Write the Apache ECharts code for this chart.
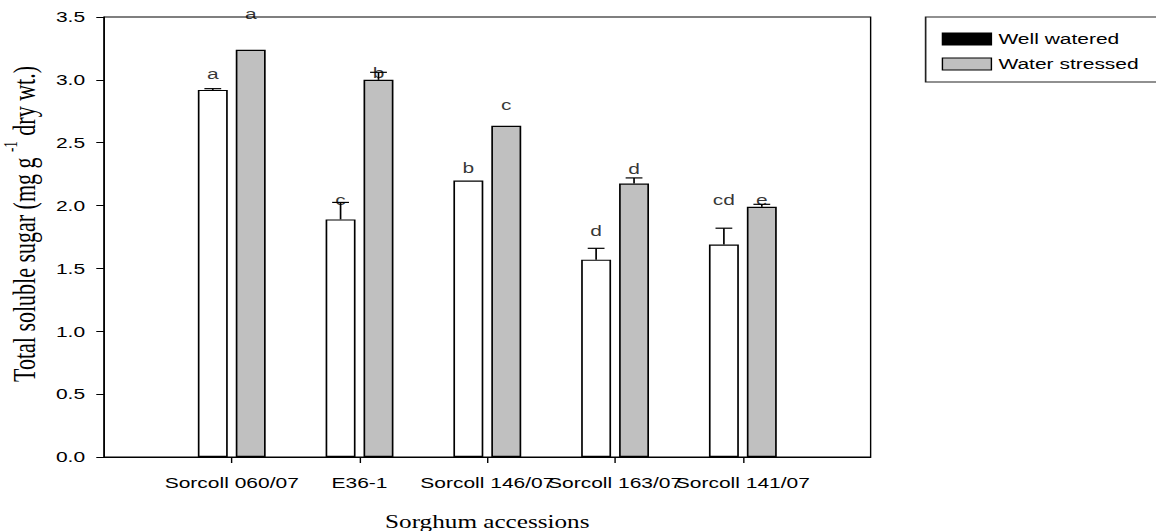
<!DOCTYPE html>
<html><head><meta charset="utf-8">
<script src="https://cdn.jsdelivr.net/npm/echarts@6/dist/echarts.min.js"></script>
<style>
html,body{margin:0;padding:0;background:#fff;overflow:hidden}
#wrap{width:1156px;height:531px;overflow:hidden;position:relative}
#chart{width:826px;height:531px;transform:scaleX(1.3995);transform-origin:0 0}
</style>
</head><body><div id="wrap"><div id="chart"></div></div>
<script>
const categories = ['Sorcoll 060/07', 'E36-1', 'Sorcoll 146/07', 'Sorcoll 163/07', 'Sorcoll 141/07'];
const wellWatered = [2.92, 1.89, 2.20, 1.57, 1.69];
const wellWateredErr = [0.01, 0.135, 0, 0.09, 0.13];
const waterStressed = [3.24, 3.00, 2.635, 2.175, 1.99];
const waterStressedErr = [0, 0.06, 0, 0.045, 0.02];
const wellLetters = ['a', 'c', 'b', 'd', 'cd'];
const stressLetters = ['a', 'b', 'c', 'd', 'e'];
const wellLetterY = [3.05, 2.045, 2.30, 1.80, 2.045];
const stressLetterY = [3.53, 3.055, 2.80, 2.29, 2.05];

const SANS = 'Liberation Sans, Arial, sans-serif';
const SERIF = 'Liberation Serif, Times New Roman, serif';
const BAR_W = 21.4;
const GAP = 5.7;
const OFFSET = (BAR_W + GAP) / 2;
const CAP = 12;

const axisCats = [''].concat(categories, ['']);
const pad = arr => ['-'].concat(arr, ['-']);

function errRender(side) {
  return function (params, api) {
    const err = api.value(2);
    if (!err) return null;
    const top = api.value(1);
    const p0 = api.coord([api.value(0), top]);
    const p1 = api.coord([api.value(0), top + err]);
    const x = p0[0] + side * OFFSET;
    const st = { stroke: '#000', lineWidth: 1.2 };
    return {
      type: 'group', children: [
        { type: 'line', shape: { x1: x, y1: p0[1], x2: x, y2: p1[1] }, style: st },
        { type: 'line', shape: { x1: x - CAP / 2, y1: p1[1], x2: x + CAP / 2, y2: p1[1] }, style: st }
      ]
    };
  };
}

function letterSeries(name, ys, letters, side) {
  return {
    name: name, type: 'scatter', clip: false, silent: true,
    symbolSize: 1, itemStyle: { color: 'rgba(0,0,0,0)' },
    data: ys.map((v, i) => [i + 1, v]),
    label: {
      show: true, position: 'inside', offset: [side * OFFSET, 0],
      formatter: p => letters[p.dataIndex],
      color: '#000', fontSize: 15, fontFamily: SANS
    },
    z: 5
  };
}

const chart = echarts.init(document.getElementById('chart'), null, { renderer: 'svg' });
chart.setOption({
  animation: false,
  backgroundColor: '#fff',
  grid: {
    left: 74.3, right: 203.9, top: 17, bottom: 74, containLabel: false, outerBoundsMode: 'none',
    show: true, borderColor: '#000', borderWidth: 1, backgroundColor: 'transparent'
  },
  legend: {
    orient: 'vertical', left: 661.4, top: 17,
    icon: 'rect', itemWidth: 35, itemHeight: 12, itemGap: 10,
    padding: [14.5, 70, 10.5, 11.5],
    borderColor: '#222', borderWidth: 1.2, borderRadius: 0,
    textStyle: { color: '#000', fontSize: 15, fontFamily: SANS },
    selectedMode: false,
    data: [
      { name: 'Well watered', itemStyle: { color: '#000', borderColor: '#000', borderWidth: 1 } },
      { name: 'Water stressed', itemStyle: { color: '#c0c0c0', borderColor: '#000', borderWidth: 1 } }
    ]
  },
  xAxis: {
    type: 'category', data: axisCats, boundaryGap: false,
    axisLine: { show: true, lineStyle: { color: '#000', width: 1 } },
    axisTick: { show: true, length: 6, interval: (i) => i > 0 && i < axisCats.length - 1, lineStyle: { color: '#000' } },
    axisLabel: { interval: 0, margin: 18, color: '#000', fontSize: 15, fontFamily: SANS },
    splitLine: { show: false },
    name: 'Sorghum accessions', nameLocation: 'middle', nameGap: 56,
    nameTextStyle: { color: '#000', fontSize: 18, fontFamily: SERIF }
  },
  yAxis: {
    type: 'value', min: 0, max: 3.5, interval: 0.5,
    axisLine: { show: true, lineStyle: { color: '#000', width: 1 } },
    axisTick: { show: true, length: 5.5, lineStyle: { color: '#000' } },
    axisLabel: { margin: 13.5, color: '#000', fontSize: 15, fontFamily: SANS, formatter: v => v.toFixed(1) },
    splitLine: { show: false },
    name: '{a|Total soluble sugar (mg g }{s|-1}{a| dry wt.)}',
    nameLocation: 'middle', nameGap: 46, nameRotate: 90,
    nameTextStyle: {
      color: '#000', padding: [0, 0, 0, 26],
      rich: {
        a: { fontFamily: SERIF, fontSize: 22, color: '#000', lineHeight: 27, verticalAlign: 'bottom' },
        s: { fontFamily: SERIF, fontSize: 13, color: '#000', lineHeight: 27, verticalAlign: 'top' }
      }
    }
  },
  series: [
    {
      name: 'Well watered', type: 'bar', data: pad(wellWatered), barWidth: BAR_W, barGap: (GAP / BAR_W * 100).toFixed(1) + '%',
      itemStyle: { color: '#fff', borderColor: '#000', borderWidth: 1.2 }, z: 2
    },
    {
      name: 'Water stressed', type: 'bar', data: pad(waterStressed), barWidth: BAR_W, barGap: (GAP / BAR_W * 100).toFixed(1) + '%',
      itemStyle: { color: '#c0c0c0', borderColor: '#000', borderWidth: 1.2 }, z: 2
    },
    {
      name: 'wwErr', type: 'custom', renderItem: errRender(-1), encode: { x: 0, y: 1 }, silent: true, clip: false,
      data: wellWatered.map((v, i) => [i + 1, v, wellWateredErr[i]]), z: 4
    },
    {
      name: 'wsErr', type: 'custom', renderItem: errRender(1), encode: { x: 0, y: 1 }, silent: true, clip: false,
      data: waterStressed.map((v, i) => [i + 1, v, waterStressedErr[i]]), z: 4
    },
    letterSeries('wwLetters', wellLetterY, wellLetters, -1),
    letterSeries('wsLetters', stressLetterY, stressLetters, 1)
  ]
});
</script>
</body></html>
